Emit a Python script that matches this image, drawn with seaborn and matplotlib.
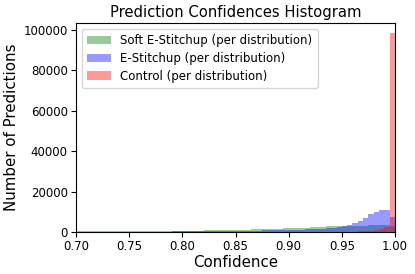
import numpy as np
import pandas as pd
import matplotlib
matplotlib.use("Agg")
import matplotlib.pyplot as plt
import seaborn as sns

plt.rcParams["font.family"] = ["DejaVu Sans"]

# bin edges: 0.700 .. 1.000, width 0.005
bin_start = 0.70
bin_end = 1.00
bin_width = 0.005
n_bins = 60

soft_estitchup = [
    250, 260, 270, 280, 290, 300, 310, 330, 340, 360,
    380, 400, 420, 440, 460, 480, 510, 540, 570, 600,
    630, 660, 700, 740, 780, 820, 870, 920, 970, 1020,
    1080, 1140, 1200, 1270, 1340, 1420, 1500, 1580, 1670, 1760,
    1850, 1950, 2050, 2150, 2300, 2450, 2600, 2750, 2850, 2950,
    3000, 3050, 3100, 3150, 3200, 3250, 3300, 3300, 3250, 3000,
]
estitchup = [
    100, 105, 110, 115, 120, 125, 130, 135, 140, 150,
    160, 170, 180, 190, 200, 210, 220, 235, 250, 265,
    280, 300, 320, 340, 360, 385, 410, 440, 470, 500,
    530, 570, 610, 650, 700, 750, 800, 860, 920, 980,
    1050, 1120, 1200, 1300, 1420, 1550, 1700, 1900, 2100, 2400,
    2800, 3400, 4400, 5400, 7000, 8700, 10000, 11000, 11000, 7200,
]
control = [
    0, 0, 0, 0, 0, 0, 0, 0, 0, 0,
    0, 0, 0, 0, 0, 0, 0, 0, 0, 0,
    0, 0, 0, 0, 0, 0, 0, 0, 0, 0,
    10, 10, 10, 10, 10, 15, 15, 15, 20, 20,
    25, 30, 35, 40, 45, 50, 60, 70, 80, 100,
    120, 150, 200, 250, 350, 550, 900, 1600, 2500, 98400,
]

series_labels = ["Soft E-Stitchup (per distribution)",
                 "E-Stitchup (per distribution)",
                 "Control (per distribution)"]
series_colors = ["g", "b", "r"]

centers = bin_start + bin_width * (np.arange(n_bins) + 0.5)

fig = plt.figure(figsize=(4.15, 2.74), dpi=100)
ax = fig.add_axes([76 / 415, 1 - 232 / 274, (395 - 76) / 415, (232 - 23) / 274])

for vals, lab, col in zip([soft_estitchup, estitchup, control], series_labels, series_colors):
    df = pd.DataFrame({"conf": centers, "count": np.asarray(vals, dtype=float)})
    sns.histplot(data=df, x="conf", weights="count", binwidth=bin_width,
                 binrange=(bin_start, bin_end), color=col, alpha=0.4,
                 linewidth=0, label=lab, ax=ax)

ax.set_xlim(0.70, 1.00)
ticks_x = [0.70, 0.75, 0.80, 0.85, 0.90, 0.95, 1.00]
ax.set_xticks(ticks_x)
ax.set_xticklabels([f"{t:.2f}" for t in ticks_x])
ax.set_yticks([0, 20000, 40000, 60000, 80000, 100000])
ax.tick_params(labelsize=8.5, length=3.5, pad=2.5)
ax.set_xlabel("Confidence", fontsize=10.8, labelpad=1.5)
ax.set_ylabel("Number of Predictions", fontsize=10.8, labelpad=3)
ax.set_title("Prediction Confidences Histogram", fontsize=10.6, pad=4.5)
ax.legend(loc="upper left", fontsize=8.5, labelspacing=0.4, borderpad=0.45)

fig.savefig("out.png", dpi=100)
